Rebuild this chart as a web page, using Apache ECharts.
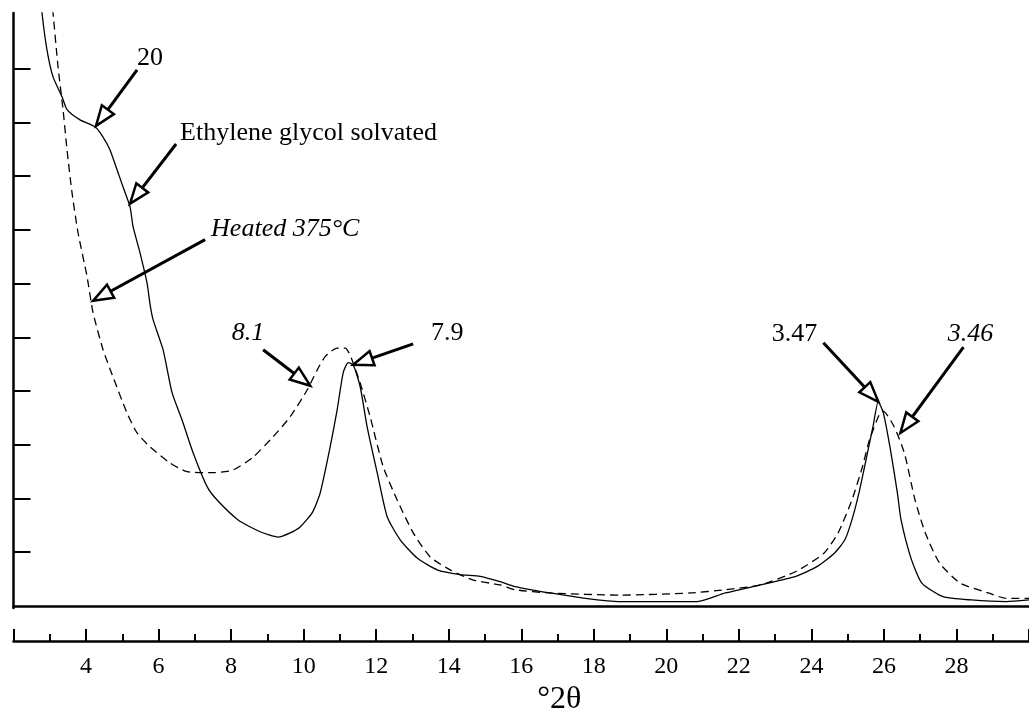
<!DOCTYPE html>
<html><head><meta charset="utf-8">
<script src="https://cdn.jsdelivr.net/npm/echarts@6/dist/echarts.min.js"></script>
<style>html,body{margin:0;padding:0;background:#fff}#chart{width:1029px;height:712px}</style>
</head><body><div id="chart"></div>
<script>
// Ethylene glycol solvated (solid)
const solidX = [2.676,2.786,2.924,3.090,3.338,3.476,3.834,4.248,4.469,4.662,4.855,5.021,5.214,5.297,5.490,5.683,5.766,5.848,6.124,6.372,6.648,6.952,7.338,7.614,8.193,8.800,9.297,9.628,9.903,10.234,10.455,10.731,10.924,11.090,11.228,11.366,11.559,11.752,12.028,12.303,12.662,13.131,13.683,14.317,14.869,15.421,15.834,16.800,17.766,18.731,20.855,21.628,22.593,23.572,24.152,24.634,24.924,25.117,25.310,25.506,25.699,25.843,25.986,26.179,26.372,26.472,26.759,27.051,27.633,28.406,29.374,30.0];
const solidY = [11.84,11.04,10.35,9.85,9.48,9.24,9.05,8.92,8.73,8.49,8.12,7.80,7.43,7.06,6.57,6.01,5.61,5.33,4.77,3.97,3.46,2.85,2.22,1.97,1.60,1.38,1.28,1.36,1.47,1.73,2.10,2.96,3.65,4.34,4.53,4.49,4.08,3.33,2.48,1.66,1.23,0.89,0.67,0.58,0.55,0.45,0.36,0.24,0.14,0.08,0.08,0.24,0.39,0.55,0.73,0.98,1.23,1.60,2.10,2.72,3.34,3.80,3.59,2.91,2.10,1.60,0.86,0.42,0.17,0.11,0.08,0.11];
// Heated 375°C (dashed)
const dashedX = [2.98,3.090,3.228,3.366,3.476,3.614,3.779,4.028,4.193,4.469,4.745,5.131,5.407,5.766,6.317,6.786,7.503,8.055,8.607,9.159,9.628,10.097,10.372,10.593,10.924,11.145,11.283,11.559,11.834,12.193,12.579,13.021,13.490,14.041,14.676,15.421,15.834,16.800,18.731,20.662,21.628,22.593,23.572,24.345,24.731,25.117,25.407,25.600,25.892,25.986,26.279,26.566,26.858,27.145,27.531,28.110,28.883,29.374,30.0];
const dashedY = [11.84,11.04,10.04,9.24,8.49,7.69,6.95,6.13,5.46,4.77,4.26,3.59,3.22,2.96,2.66,2.50,2.48,2.53,2.77,3.15,3.52,4.02,4.39,4.64,4.80,4.80,4.67,4.15,3.52,2.59,1.97,1.36,0.91,0.67,0.48,0.39,0.30,0.24,0.20,0.24,0.30,0.39,0.64,0.98,1.35,1.97,2.59,3.09,3.59,3.62,3.34,2.84,1.97,1.35,0.80,0.42,0.24,0.14,0.14];

const xTickLabels = [4,6,8,10,12,14,16,18,20,22,24,26,28];
const yTickValues = [1,2,3,4,5,6,7,8,9,10];

// annotations (data coordinates)
const annotText  = ['20','Ethylene glycol solvated','Heated 375°C','8.1','7.9','3.47','3.46'];
const annotTextX = [5.766,6.593,7.448,8.469,13.959,23.531,28.386];
const annotTextY = [10.19,8.81,7.02,5.08,5.07,5.05,5.05];
const arrowFromX = [5.407,6.483,7.283,8.883,13.021,24.331,28.193];
const arrowFromY = [9.98,8.60,6.82,4.77,4.88,4.90,4.82];
const arrowToX   = [4.276,5.214,4.193,10.179,11.366,25.848,26.455];
const arrowToY   = [8.94,7.49,5.68,4.10,4.49,3.80,3.22];
const annotItalic = [false,false,true,true,false,false,true];
const annotAlign  = ['center','left','left','center','center','center','center'];

const FONT = 'Liberation Serif, Times New Roman, serif';
const chart = echarts.init(document.getElementById('chart'), null, {renderer:'canvas'});

const arrowData = arrowFromX.map((v,i)=>[arrowFromX[i],arrowFromY[i],arrowToX[i],arrowToY[i],i]);

chart.setOption({
  animation:false,
  backgroundColor:'#fff',
  grid:{left:13.5,right:0,top:13,bottom:104,containLabel:false,outerBoundsMode:'none'},
  xAxis:[
    {type:'value',min:2,max:30,position:'bottom',
     axisLine:{show:true,lineStyle:{color:'#000',width:2.5}},
     axisTick:{show:false},axisLabel:{show:false},splitLine:{show:false}},
    {type:'value',min:2,max:30,interval:2,position:'bottom',offset:33,
     axisLine:{show:true,lineStyle:{color:'#000',width:2.5}},
     axisTick:{show:true,inside:true,length:12,lineStyle:{color:'#000',width:2}},
     minorTick:{show:true,splitNumber:2,length:7,lineStyle:{color:'#000',width:2}},
     axisLabel:{show:true,customValues:xTickLabels,color:'#000',fontFamily:FONT,fontSize:24,margin:14},
     splitLine:{show:false},minorSplitLine:{show:false},
     name:'°2θ',nameLocation:'middle',nameGap:40,
     nameTextStyle:{color:'#000',fontFamily:FONT,fontSize:32,padding:[0,0,0,76]}}
  ],
  yAxis:{type:'value',min:-0.04,max:11.04,
     axisLine:{show:true,lineStyle:{color:'#000',width:2.5}},
     axisTick:{show:true,inside:true,length:17,customValues:yTickValues,lineStyle:{color:'#000',width:2}},
     axisLabel:{show:false},splitLine:{show:false}},
  series:[
    {type:'line',name:'Ethylene glycol solvated',xAxisIndex:0,showSymbol:false,symbol:'none',smooth:0.2,
     data:solidX.map((x,i)=>[x,solidY[i]]),lineStyle:{color:'#000',width:1.3},clip:true,z:3},
    {type:'line',name:'Heated 375°C',xAxisIndex:0,showSymbol:false,symbol:'none',smooth:0.2,
     data:dashedX.map((x,i)=>[x,dashedY[i]]),lineStyle:{color:'#000',width:1.3,type:[8,5]},clip:true,z:3},
    {type:'custom',xAxisIndex:0,clip:false,z:5,
     encode:{x:[0,2],y:[1,3]},
     data:arrowData,
     renderItem:function(params,api){
       const i = api.value(4);
       const p0 = api.coord([api.value(0),api.value(1)]);
       const p1 = api.coord([api.value(2),api.value(3)]);
       const dx=p1[0]-p0[0], dy=p1[1]-p0[1], len=Math.hypot(dx,dy);
       const ux=dx/len, uy=dy/len, L=20, W=7.5;
       const bx=p1[0]-ux*L, by=p1[1]-uy*L, nx=-uy, ny=ux;
       const tp = api.coord([annotTextX[i],annotTextY[i]]);
       return {type:'group',children:[
         {type:'line',shape:{x1:p0[0],y1:p0[1],x2:bx,y2:by},style:{stroke:'#000',lineWidth:3}},
         {type:'polygon',shape:{points:[[p1[0],p1[1]],[bx+nx*W,by+ny*W],[bx-nx*W,by-ny*W]]},
          style:{fill:'#fff',stroke:'#000',lineWidth:2.5}},
         {type:'text',x:tp[0],y:tp[1],style:{text:annotText[i],fill:'#000',fontFamily:FONT,fontSize:26,
           fontStyle:annotItalic[i]?'italic':'normal',align:annotAlign[i],verticalAlign:'middle'}}
       ]};
     }}
  ]
});
</script></body></html>
